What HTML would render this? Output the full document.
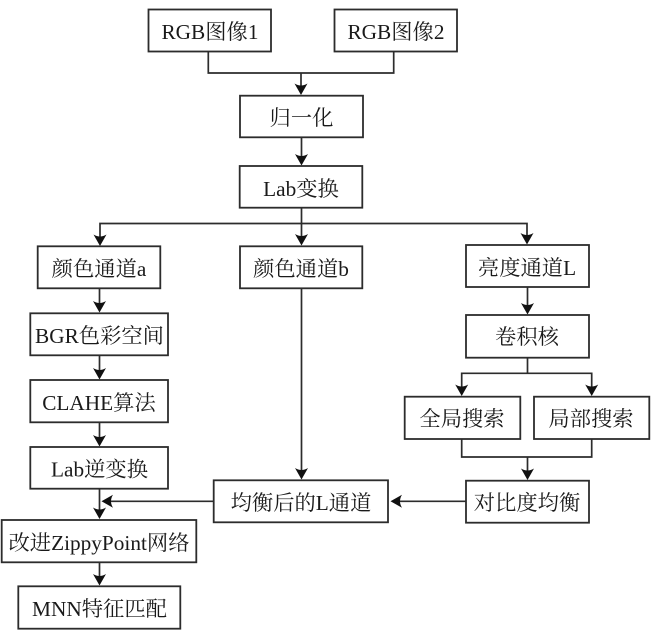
<!DOCTYPE html>
<html>
<head>
<meta charset="utf-8">
<style>
html,body{margin:0;padding:0;background:#fff;width:651px;height:633px;overflow:hidden}
svg{display:block;filter:blur(0.35px)}
text{font-family:"Liberation Serif","Noto Serif CJK SC",serif;font-size:21.3px;fill:#1a1a1a;text-anchor:middle;dominant-baseline:central;transform:translateY(1px)}
.b{fill:#fff;stroke:#2c2c2c;stroke-width:1.8}
.l{fill:none;stroke:#2c2c2c;stroke-width:1.7}
.a{fill:#111;stroke:none}
</style>
</head>
<body>
<svg width="651" height="633" viewBox="0 0 651 633" xmlns="http://www.w3.org/2000/svg">
<defs>
<path id="d" class="a" d="M0 0 L-6.5 -11.5 Q0 -7.5 6.5 -11.5 Z"/>
<path id="w" class="a" d="M0 0 L11.5 -6.5 Q7.5 0 11.5 6.5 Z"/>
</defs>
<g class="l">
<path d="M208.3 51V73H393.7V51"/>
<path d="M301 73V90"/>
<path d="M301.5 137V160"/>
<path d="M301.5 207V240"/>
<path d="M100 240V223.5H527V240"/>
<path d="M99.5 288V308"/>
<path d="M99.5 355V375"/>
<path d="M99.5 422V442"/>
<path d="M99.5 488V515"/>
<path d="M99.5 562V582"/>
<path d="M301.5 288V474"/>
<path d="M527.5 287V310"/>
<path d="M527.5 357V373.3"/>
<path d="M461.7 390V373.3H591.7V390"/>
<path d="M461.7 439V457H591.7V439"/>
<path d="M527.5 457V474"/>
<path d="M466 501.3H398"/>
<path d="M213.7 501.3H110"/>
</g>
<use href="#d" x="301" y="95"/>
<use href="#d" x="301.5" y="165.5"/>
<use href="#d" x="100" y="246"/>
<use href="#d" x="301.5" y="245.5"/>
<use href="#d" x="527" y="244.5"/>
<use href="#d" x="99.5" y="312.5"/>
<use href="#d" x="99.5" y="379.5"/>
<use href="#d" x="99.5" y="446.5"/>
<use href="#d" x="99.5" y="519"/>
<use href="#d" x="99.5" y="585.5"/>
<use href="#d" x="301.5" y="479.5"/>
<use href="#d" x="527.5" y="314.5"/>
<use href="#d" x="461.7" y="396"/>
<use href="#d" x="591.7" y="396"/>
<use href="#d" x="527.5" y="480"/>
<use href="#w" x="390.5" y="501.3"/>
<use href="#w" x="101.5" y="501.3"/>

<rect class="b" x="148.5" y="9.5" width="122.5" height="42"/>
<text x="210" y="31">RGB图像1</text>
<rect class="b" x="334.5" y="9.5" width="122.5" height="42"/>
<text x="396" y="31">RGB图像2</text>
<rect class="b" x="240" y="95.7" width="123" height="41.6"/>
<text x="301.5" y="117">归一化</text>
<rect class="b" x="239.7" y="166" width="122.6" height="41.7"/>
<text x="301" y="188">Lab变换</text>
<rect class="b" x="37.7" y="246.3" width="122.6" height="42"/>
<text x="99" y="268">颜色通道a</text>
<rect class="b" x="240" y="246.3" width="122.3" height="42"/>
<text x="301" y="268">颜色通道b</text>
<rect class="b" x="466" y="245" width="123" height="42"/>
<text x="527" y="267">亮度通道L</text>
<rect class="b" x="30.3" y="313.3" width="137.7" height="42"/>
<text x="99.5" y="335">BGR色彩空间</text>
<rect class="b" x="30.3" y="380" width="137.7" height="42.3"/>
<text x="99" y="402">CLAHE算法</text>
<rect class="b" x="30.3" y="447" width="137.7" height="41.7"/>
<text x="99.5" y="468.5">Lab逆变换</text>
<rect class="b" x="1.7" y="520" width="194.6" height="42.3"/>
<text x="99" y="542">改进ZippyPoint网络</text>
<rect class="b" x="18.3" y="586.3" width="162" height="42.4"/>
<text x="99.5" y="608">MNN特征匹配</text>
<rect class="b" x="213.7" y="480.3" width="174.3" height="42"/>
<text x="301" y="502">均衡后的L通道</text>
<rect class="b" x="466" y="315" width="123" height="42.7"/>
<text x="527" y="336">卷积核</text>
<rect class="b" x="404.7" y="396.7" width="115.6" height="42.3"/>
<text x="462" y="418">全局搜索</text>
<rect class="b" x="534" y="396.7" width="115.3" height="42.3"/>
<text x="591" y="418">局部搜索</text>
<rect class="b" x="466" y="480.7" width="123" height="42"/>
<text x="527" y="502">对比度均衡</text>
</svg>
</body>
</html>
